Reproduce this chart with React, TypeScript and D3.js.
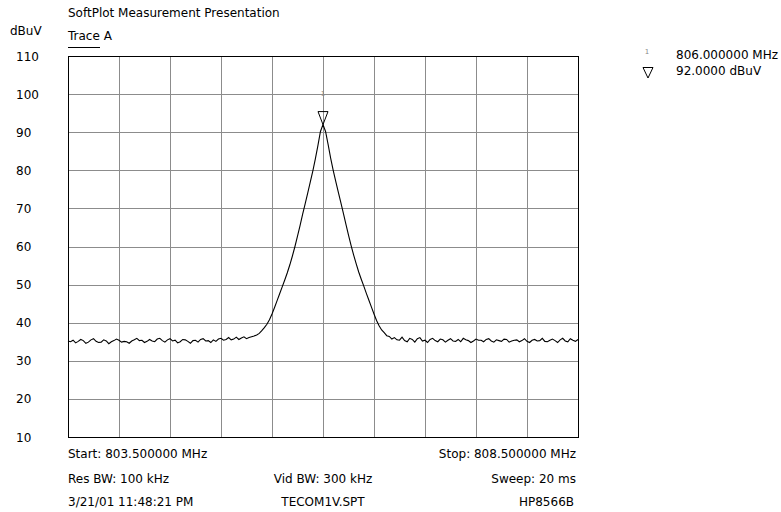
import React from 'react';
import * as d3 from 'd3';

// sweep settings
const startMHz = 803.5;
const stopMHz = 808.5;
const stepMHz = 0.025;

const yTicks = [110, 100, 90, 80, 70, 60, 50, 40, 30, 20, 10];
const xGrid = [803.5, 804, 804.5, 805, 805.5, 806, 806.5, 807, 807.5, 808, 808.5];

// trace A, dBuV, one value every 25 kHz
const floorLeft = [
  35.2, 35.0, 35.4, 34.7, 35.1, 35.6, 35.3, 34.6, 34.9, 35.5,
  35.8, 35.1, 34.8, 34.9, 35.5, 35.2, 34.5, 35.0, 35.3, 35.7,
  35.4, 34.9, 35.1, 35.0, 34.6, 35.2, 35.5, 35.9, 35.3, 35.4,
  34.8, 35.1, 35.6, 35.2, 35.0, 35.7, 35.9, 35.3, 34.9, 35.5,
  35.8, 35.2, 35.4, 34.7, 35.0, 35.6, 35.5, 35.1, 34.6, 35.3,
  35.4, 34.9, 35.6, 35.8, 35.2, 35.3, 34.8, 35.5, 35.1, 35.7,
  35.9, 35.4, 35.6, 36.1, 35.5, 35.7, 36.2, 35.6, 36.0, 36.3, 35.8, 36.1, 36.3,
];
const peakRise = [
  36.5, 36.8, 37.2, 37.9, 38.7, 39.6, 40.8, 42.3, 44.0, 45.8,
  47.6, 49.4, 51.2, 53.1, 55.2, 57.5, 60.0, 62.7, 65.5, 68.4,
  71.2, 74.0, 76.9, 79.8, 83.0, 86.5, 90.2, 92.0,
];
const peakFall = [
  90.2, 86.8, 83.2, 80.0, 77.1, 74.3, 71.5, 68.7, 65.8, 63.0,
  60.3, 57.8, 55.5, 53.3, 51.4, 49.6, 47.7, 45.9, 44.1, 42.3,
  40.6, 39.2, 38.1, 37.4, 36.6, 36.4, 35.7,
];
const floorRight = [
  36.1, 35.5, 35.4, 36.2, 35.3, 35.0, 35.9, 35.6, 34.9, 35.8,
  36.1, 35.2, 35.4, 34.8, 35.6, 35.9, 35.3, 35.0, 35.7, 35.5,
  34.9, 35.4, 35.8, 35.2, 35.1, 35.6, 35.0, 35.9, 35.5, 35.3,
  34.8, 35.2, 35.7, 35.4, 35.4, 35.0, 35.6, 35.8, 35.2, 34.9,
  35.5, 35.3, 35.1, 35.7, 35.6, 34.9, 35.2, 35.4, 35.5, 35.0,
  35.3, 35.8, 35.1, 34.8, 35.4, 35.6, 35.2, 35.3, 35.9, 35.1,
  35.0, 35.4, 35.7, 35.3, 34.8, 35.5, 35.9, 35.2, 35.0, 35.8, 35.4, 35.1, 35.6,
];
const traceA = [...floorLeft, ...peakRise, ...peakFall, ...floorRight];

const markerMHz = 806.0;
const markerDb = 92.0;

const font = '"DejaVu Sans", Verdana, sans-serif';

export default function App() {
  const x = d3.scaleLinear().domain([startMHz, stopMHz]).range([68, 578]);
  const y = d3.scaleLinear().domain([10, 110]).range([437, 56]);

  const line = d3
    .line<number>()
    .x((d, i) => x(startMHz + i * stepMHz))
    .y((d) => y(d));

  const mx = x(markerMHz);
  const my = y(markerDb);
  const txt = { fontFamily: font, fontSize: 12, fill: '#000' };

  return (
    <svg width={781} height={512} style={{ position: 'absolute', left: 0, top: 0, background: '#fff' }}>
      <text x={68} y={17} {...txt}>SoftPlot Measurement Presentation</text>
      <text x={10} y={35} {...txt}>dBuV</text>
      <text x={68} y={40} {...txt}>Trace A</text>
      <line x1={68} x2={100} y1={47.5} y2={47.5} stroke="#000" />

      {/* grid */}
      {xGrid.map((f) => (
        <line key={'v' + f} x1={Math.round(x(f)) + 0.5} x2={Math.round(x(f)) + 0.5} y1={y(110)} y2={y(10)} stroke="#8c8c8c" />
      ))}
      {yTicks.map((t) => (
        <line key={'h' + t} x1={x(startMHz)} x2={x(stopMHz)} y1={Math.round(y(t)) + 0.5} y2={Math.round(y(t)) + 0.5} stroke="#8c8c8c" />
      ))}
      <rect x={68.5} y={Math.round(y(110)) + 0.5} width={510} height={Math.round(y(10)) - Math.round(y(110))} fill="none" stroke="#000" />

      {yTicks.map((t) => (
        <text key={'l' + t} x={16} y={y(t) + 4.5} {...txt}>{t}</text>
      ))}

      <path d={line(traceA) || ''} fill="none" stroke="#000" strokeWidth={1.1} />

      {/* marker 1 */}
      <text x={mx} y={96} textAnchor="middle" fontFamily={font} fontSize={7} fill="#888">1</text>
      <polygon points={`${mx - 5},${my - 13} ${mx + 5},${my - 13} ${mx},${my}`} fill="none" stroke="#000" />

      {/* marker readout */}
      <text x={647} y={54} textAnchor="middle" fontFamily={font} fontSize={7} fill="#888">1</text>
      <polygon points="643,67.5 653,67.5 648,78" fill="none" stroke="#000" />
      <text x={676} y={59} {...txt}>806.000000 MHz</text>
      <text x={676} y={75} {...txt}>92.0000 dBuV</text>

      {/* footer */}
      <text x={68} y={458} {...txt}>Start: 803.500000 MHz</text>
      <text x={576} y={458} textAnchor="end" {...txt}>Stop: 808.500000 MHz</text>
      <text x={68} y={483} {...txt}>Res BW: 100 kHz</text>
      <text x={323} y={483} textAnchor="middle" {...txt}>Vid BW: 300 kHz</text>
      <text x={576} y={483} textAnchor="end" {...txt}>Sweep: 20 ms</text>
      <text x={68} y={506} {...txt}>3/21/01 11:48:21 PM</text>
      <text x={323} y={506} textAnchor="middle" {...txt}>TECOM1V.SPT</text>
      <text x={574} y={506} textAnchor="end" {...txt}>HP8566B</text>
    </svg>
  );
}
